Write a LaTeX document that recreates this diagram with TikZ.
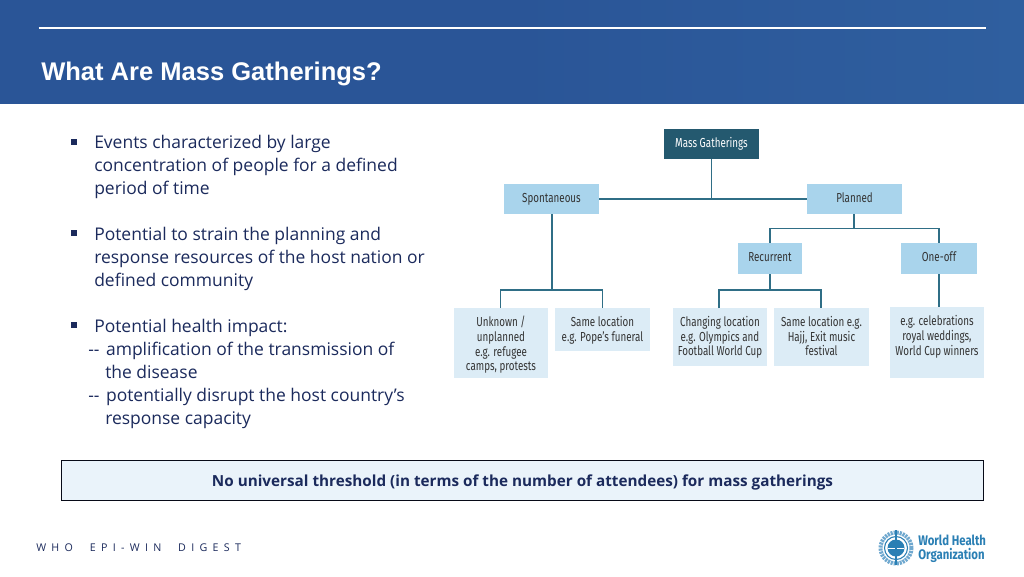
\documentclass[tikz,border=0pt]{standalone}
\usepackage{fontspec}
\setmainfont{Open Sans}
\newfontfamily\titlefont{Liberation Sans}
\newfontfamily\diagfont[FakeStretch=0.75]{Fira Sans}
\newfontfamily\whofont[FakeStretch=0.82]{Fira Sans}
\newfontfamily\footfont[LetterSpace=50]{Open Sans}
\usetikzlibrary{calc}
\definecolor{headblue}{HTML}{2A5597}
\definecolor{headblueR}{HTML}{2F5F9F}
\definecolor{bodyink}{HTML}{1B2A5C}
\definecolor{rootbox}{HTML}{24596F}
\definecolor{midbox}{HTML}{A9D4EC}
\definecolor{leafbox}{HTML}{DCECF6}
\definecolor{conn}{HTML}{2F6E86}
\definecolor{bannerfill}{HTML}{EAF3FA}
\definecolor{whoblue}{HTML}{2A7FB4}
\definecolor{wholight}{HTML}{6FA8CF}
\tikzset{
  x=0.75pt,y=-0.75pt,
  bodyline/.style={anchor=base west,inner sep=0pt,text=bodyink,font=\fontsize{13.1pt}{16pt}\selectfont},
  bullet/.style={fill=bodyink,draw=none,minimum size=4.2pt,inner sep=0pt},
  tbox/.style={inner sep=0pt,align=center,font=\diagfont\fontsize{9.8pt}{11pt}\selectfont,text=black!80},
  headbox/.style={tbox,text height=7pt,text depth=2pt},
  link/.style={draw=conn,line width=1pt},
}
\begin{document}
\begin{tikzpicture}
\useasboundingbox (0,0) rectangle (1024,576);
\fill[white] (0,0) rectangle (1024,576);
\shade[left color=headblue,right color=headblueR,middle color=headblue] (0,0) rectangle (1024,103.5);
\draw[white,line width=1.5pt] (38.5,27.5) -- (985.5,27.5);
\node[anchor=base west,inner sep=0pt,text=white,font=\titlefont\bfseries\fontsize{19.15pt}{24pt}\selectfont] (title) at (41,80) {What Are Mass Gatherings?};

% bullets
\node[bullet] (b1) at (74,142) {};
\node[bullet] (b2) at (74,233) {};
\node[bullet] (b3) at (74,325) {};
% body
\node[bodyline] (l1) at (94,148) {Events characterized by large};
\node[bodyline] (l2) at (94,171) {concentration of people for a defined};
\node[bodyline] (l3) at (94,194) {period of time};
\node[bodyline] (l4) at (94,240) {Potential to strain the planning and};
\node[bodyline] (l5) at (94,263) {response resources of the host nation or};
\node[bodyline] (l6) at (94,286) {defined community};
\node[bodyline] (l7) at (94,332) {Potential health impact:};
\node[bodyline] (l8) at (88,355) {-{}-\hspace{1.5pt} amplification of the transmission of};
\node[bodyline] (l9) at (105,378) {the disease};
\node[bodyline] (l10) at (88,401) {-{}-\hspace{1.5pt} potentially disrupt the host country’s};
\node[bodyline] (l11) at (105,424) {response capacity};

% diagram boxes
\node[headbox,fill=rootbox,text=white,minimum width=71.25pt,minimum height=22.5pt] (mg) at (711.5,144) {Mass Gatherings};
\node[headbox,fill=midbox,minimum width=71.25pt,minimum height=22.5pt] (sp) at (551.5,199) {Spontaneous};
\node[headbox,fill=midbox,minimum width=71.25pt,minimum height=22.5pt] (pl) at (854.5,199) {Planned};
\node[headbox,fill=midbox,minimum width=48pt,minimum height=23.25pt] (re) at (770,258.5) {Recurrent};
\node[headbox,fill=midbox,minimum width=57pt,minimum height=23.25pt] (oo) at (939,258.5) {One-off};
\node[tbox,fill=leafbox,anchor=north,minimum width=70.5pt,minimum height=52.5pt] (u) at (501,308) {};
\node[tbox,fill=leafbox,anchor=north,minimum width=71.25pt,minimum height=32.25pt] (s) at (602.5,308) {};
\node[tbox,fill=leafbox,anchor=north,minimum width=70.5pt,minimum height=43.5pt] (c) at (720,308) {};
\node[tbox,fill=leafbox,anchor=north,minimum width=71.25pt,minimum height=43.5pt] (h) at (821.5,308) {};
\node[tbox,fill=leafbox,anchor=north,minimum width=70.5pt,minimum height=53.25pt] (e) at (937,307) {};
% leaf texts
\node[tbox,anchor=north] (ut) at (501,316) {Unknown /\\unplanned\\e.g. refugee\\camps, protests};
\node[tbox,anchor=north] (st) at (602.5,316) {Same location\\e.g. Pope’s funeral};
\node[tbox,anchor=north] (ct) at (720,316) {Changing location\\e.g. Olympics and\\Football World Cup};
\node[tbox,anchor=north] (ht) at (821.5,316) {Same location e.g.\\Hajj, Exit music\\festival};
\node[tbox,anchor=north] (et) at (937,315.5) {e.g. celebrations\\royal weddings,\\World Cup winners};

% connectors
\coordinate (jm) at (mg.south |- sp.east);
\coordinate (js) at (552,290);
\coordinate (jp) at (854,228.5);
\coordinate (jr) at (770,290);
\draw[link] (sp.east) -- (pl.west);
\draw[link] (mg.south) -- (jm);
\draw[link] (sp.south -| js) -- (js);
\draw[link] (u.north -| 500.5,0) |- (js) -| (s.north -| 602.5,0);
\draw[link] (pl.south -| jp) -- (jp);
\draw[link] (re.north) |- (jp) -| (oo.north);
\draw[link] (re.south) -- (jr);
\draw[link] (c.north -| 719,0) |- (jr) -| (h.north -| 821,0);
\draw[link] (oo.south) -- (oo.south |- e.north);

% banner
\node[draw=black!75!bodyink,line width=0.6pt,fill=bannerfill,minimum width=691pt,minimum height=30.4pt,inner sep=0pt] (banner) at (522.5,480.5) {};
\node[anchor=base,inner sep=0pt,text=bodyink,font=\bfseries\fontsize{11.45pt}{14pt}\selectfont] (bannertext) at (522.5,486) {No universal threshold (in terms of the number of attendees) for mass gatherings};

% footer
\node[anchor=base west,inner sep=0pt,text=bodyink,font=\footfont\fontsize{8pt}{10pt}\selectfont] (foot) at (36,551) {WHO\hspace{6.5pt} EPI-WIN\hspace{6.5pt} DIGEST};

% WHO emblem
\begin{scope}
\draw[wholight,line width=3pt,dash pattern=on 1.6pt off 0.7pt] (896,548) circle (15.5);
\fill[white] (896,548) circle (12.5);
\draw[whoblue,line width=0.8pt] (896,548) circle (11.5);
\fill[whoblue] (896,548) circle (8.5);
\draw[white,line width=0.5pt] (888,548) -- (904,548) (896,540) -- (896,556);
\draw[whoblue,line width=1.1pt] (896,530) -- (896,565);
\end{scope}
\node[anchor=west,inner sep=0pt,align=left,text=whoblue,font=\whofont\bfseries\fontsize{10.4pt}{10.6pt}\selectfont] (who) at (918,549) {World Health\\Organization};
\end{tikzpicture}
\end{document}
